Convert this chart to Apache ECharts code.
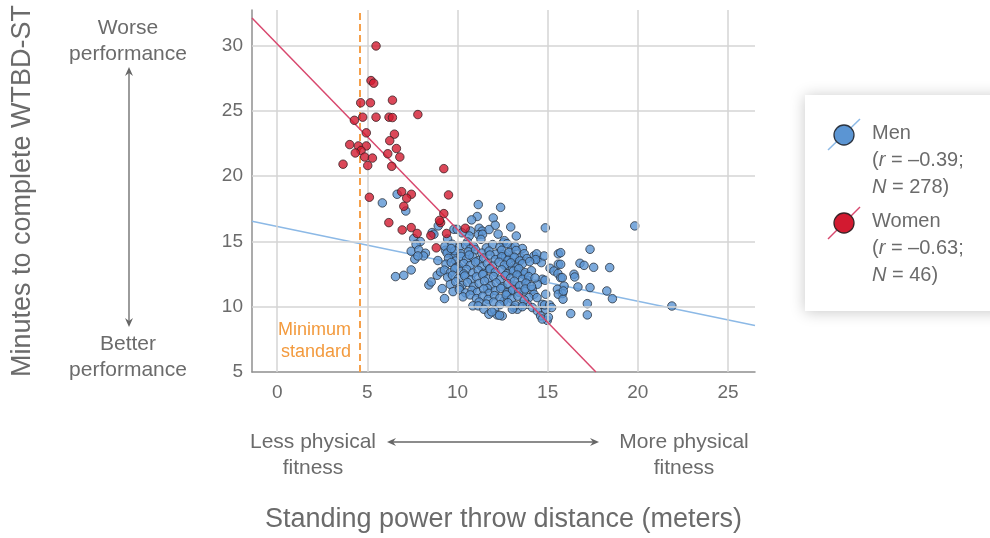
<!DOCTYPE html>
<html>
<head>
<meta charset="utf-8">
<script src="https://cdn.jsdelivr.net/npm/echarts@6/dist/echarts.min.js"></script>
<style>
  html, body { margin: 0; padding: 0; background: #fff; }
  #chart { width: 990px; height: 538px; }
</style>
</head>
<body>
<div id="chart"></div>
<script>
// Axis ticks
const xTicks = [0, 5, 10, 15, 20, 25];
const yTicks = [5, 10, 15, 20, 25, 30];
const xRange = [-1.4, 26.5];
const yRange = [5, 32.7];

// Minimum standard for the standing power throw (meters)
const minimumStandard = 4.55;

// Fitted lines: minutes = intercept + slope * distance
const menFit = { intercept: 16.13, slope: -0.286 };
const womenFit = { intercept: 30.1, slope: -1.42 };

// Women: [throw distance (m), minutes]
const womenPoints = [
  [5.48, 29.95], [5.2, 27.3], [5.35, 27.1], [4.63, 25.6], [5.17, 25.6], [6.39, 25.8],
  [4.28, 24.26], [4.74, 24.5], [5.48, 24.5], [6.2, 24.5], [6.39, 24.47], [7.8, 24.7],
  [4.94, 23.3], [6.5, 23.2], [6.24, 22.7], [4.02, 22.4], [4.5, 22.3], [4.94, 22.3],
  [6.61, 22.1], [4.65, 21.94], [4.33, 21.76], [6.13, 21.7], [4.85, 21.45], [5.28, 21.37],
  [6.8, 21.45], [3.65, 20.9], [5.02, 20.8], [6.35, 20.74], [9.24, 20.56], [5.11, 18.37],
  [6.9, 18.8], [7.44, 18.6], [7.18, 18.3], [7.02, 17.68], [9.5, 18.55], [6.19, 16.43],
  [6.93, 15.87], [7.43, 16.05], [7.76, 15.6], [8.52, 15.44], [9.24, 17.12], [9.06, 16.43],
  [9.39, 15.6], [8.82, 14.5], [10.43, 16.0], [9.0, 16.6]
];

// Men: [throw distance (m), minutes]
const menPoints = [
  [5.83, 17.94], [6.65, 18.6], [7.13, 17.32],
  [6.56, 12.3], [7.02, 12.4], [7.43, 12.81],
  [7.57, 15.21], [7.94, 14.98], [7.7, 14.77],
  [7.43, 14.24], [7.85, 14.34], [8.22, 14.09], [7.63, 13.63], [8.11, 13.88], [7.8, 13.88],
  [8.91, 13.53], [9.33, 14.32], [9.65, 14.09], [9.83, 13.83],
  [8.41, 11.66], [8.54, 11.89], [9.15, 11.38], [9.28, 10.62], [8.87, 12.4], [9.06, 12.66],
  [8.93, 16.18], [8.59, 15.67], [8.69, 15.54], [9.8, 15.92], [9.98, 15.92],
  [11.15, 17.81], [12.39, 17.6], [11.09, 16.9], [10.78, 16.64], [11.98, 16.79], [12.09, 16.23],
  [14.87, 16.03], [19.83, 16.18],
  [11.2, 16.0], [11.37, 15.78], [10.72, 15.79], [11.17, 15.51], [11.39, 15.54], [10.65, 15.41],
  [13.26, 15.41],
  [12.54, 14.9], [13.0, 14.47], [12.48, 14.01], [12.67, 13.88], [12.85, 13.63], [13.09, 13.8],
  [13.28, 13.37], [13.5, 13.75], [12.76, 13.12], [13.04, 12.86], [13.41, 12.6], [13.65, 12.48],
  [13.87, 12.02], [14.24, 13.88], [14.43, 13.63], [14.65, 13.37], [14.8, 13.88], [15.13, 12.94],
  [15.35, 12.73], [15.57, 12.53], [15.72, 12.22], [15.91, 11.58], [15.82, 11.0], [14.7, 12.1],
  [14.85, 12.02], [14.43, 11.71], [14.15, 11.33], [14.24, 10.95], [13.96, 10.69], [13.69, 11.2],
  [13.22, 11.58], [12.95, 11.2], [12.76, 10.95], [12.57, 10.44], [13.13, 9.93], [13.32, 9.8],
  [13.59, 10.18], [13.87, 10.18], [14.15, 9.93], [14.43, 9.67], [14.7, 10.18], [14.89, 9.8],
  [14.61, 9.29], [14.98, 8.95], [14.7, 9.05], [12.48, 9.29],
  [15.59, 14.04], [14.39, 14.04], [14.33, 13.6], [15.59, 13.25], [15.54, 11.33], [15.59, 10.95],
  [15.85, 10.57], [14.89, 10.95], [14.41, 10.69], [14.83, 10.13], [15.11, 10.13], [15.22, 9.93],
  [15.04, 9.19], [16.28, 9.47], [17.2, 10.23], [17.2, 9.37], [17.35, 14.39], [16.79, 13.32],
  [17.02, 13.16], [17.55, 13.01], [18.44, 12.99], [16.46, 12.48], [16.5, 12.27], [15.72, 14.13],
  [15.72, 13.24], [16.68, 11.51], [17.35, 11.46], [18.28, 11.2], [18.59, 10.61], [15.87, 11.2],
  [21.89, 10.05], [15.81, 12.22],
  // dense core of the cloud
  [9.45, 15.18], [10.25, 15.65], [10.55, 14.95], [12.25, 15.55], [12.6, 15.05], [11.75, 15.9], [12.95, 16.1],
  [9.3, 14.62], [9.7, 14.78], [10.1, 14.55], [10.45, 14.72], [10.9, 14.6], [11.3, 15.15],
  [11.6, 14.5], [11.95, 14.75], [12.35, 14.55], [12.75, 14.82], [13.2, 14.6], [13.6, 14.45], [10.7, 14.4],
  [9.42, 14.1], [9.85, 14.28], [10.2, 14.05], [10.6, 14.2], [11.0, 14.35], [11.35, 14.1],
  [11.75, 14.25], [12.1, 14.02], [12.45, 14.32], [12.85, 14.15], [13.25, 14.3], [13.7, 14.05], [9.65, 14.45],
  [9.5, 13.7], [9.9, 13.5], [10.2, 13.85], [10.5, 13.62], [10.85, 13.8], [11.15, 13.52],
  [11.45, 13.72], [11.8, 13.95], [12.1, 13.6], [12.45, 13.82], [12.8, 13.55], [13.15, 13.78],
  [13.45, 13.5], [13.85, 13.68], [10.65, 13.95],
  [9.36, 13.25], [9.65, 13.38], [10.05, 13.1], [10.35, 13.3], [10.7, 13.15], [11.0, 13.42],
  [11.35, 13.05], [11.65, 13.3], [11.95, 13.1], [12.3, 13.4], [12.6, 13.18], [12.95, 13.35],
  [13.3, 13.02], [13.6, 13.28], [14.0, 13.45], [9.9, 12.98], [11.8, 12.92],
  [9.27, 12.8], [9.6, 12.6], [9.85, 12.9], [10.2, 12.7], [10.5, 12.85], [10.85, 12.58],
  [11.15, 12.78], [11.45, 12.55], [11.8, 12.88], [12.1, 12.65], [12.45, 12.82], [12.75, 12.52],
  [13.1, 12.72], [13.4, 12.9], [13.75, 12.6], [14.1, 12.75], [10.35, 12.5],
  [9.45, 12.25], [9.72, 12.4], [10.05, 12.15], [10.4, 12.35], [10.75, 12.05], [11.05, 12.28],
  [11.4, 12.45], [11.7, 12.12], [12.0, 12.3], [12.35, 12.05], [12.65, 12.38], [12.95, 12.18],
  [13.3, 12.42], [13.6, 12.1], [13.95, 12.3], [14.3, 12.2],
  [9.6, 11.7], [9.9, 11.9], [10.25, 11.62], [10.55, 11.85], [10.9, 11.55], [11.2, 11.78],
  [11.5, 11.95], [11.85, 11.6], [12.15, 11.82], [12.5, 11.52], [12.8, 11.75], [13.15, 11.95],
  [13.45, 11.6], [13.8, 11.8], [10.1, 11.45], [11.65, 11.4],
  [9.75, 11.15], [10.1, 11.3], [10.45, 11.05], [10.8, 11.25], [11.1, 11.1], [11.45, 11.35],
  [11.75, 11.02], [12.1, 11.22], [12.4, 11.4], [12.75, 11.08], [13.05, 11.28], [13.4, 11.1],
  [13.75, 11.35], [14.1, 11.55],
  [10.3, 10.75], [10.7, 10.9], [11.05, 10.62], [11.4, 10.8], [11.7, 10.55], [12.05, 10.85],
  [12.35, 10.65], [12.7, 10.9], [13.0, 10.6], [13.35, 10.8], [13.7, 10.5], [11.2, 10.35],
  [10.85, 10.06], [11.15, 10.06], [11.6, 10.2], [12.0, 10.35], [12.35, 10.15], [12.8, 10.3],
  [13.2, 10.1], [13.6, 10.0],
  [11.46, 9.8], [11.74, 9.42], [12.06, 9.72], [12.2, 9.37], [12.33, 9.34], [13.04, 9.8], [11.9, 9.6]
];

const TEXT = '#6b6b6b';
const FONT = '"Liberation Sans", Arial, sans-serif';
const BLUE = '#5b95d3';
const RED = '#d21a30';

// Fitted line endpoints, clipped to the plotted range
function fitLine(fit) {
  const x0 = xRange[0];
  let x1 = xRange[1];
  const yAtEnd = fit.intercept + fit.slope * x1;
  if (yAtEnd < yRange[0]) x1 = (yRange[0] - fit.intercept) / fit.slope;
  return [[x0, fit.intercept + fit.slope * x0], [x1, fit.intercept + fit.slope * x1]];
}

const chart = echarts.init(document.getElementById('chart'), null, { renderer: 'canvas' });

const gridLines = [];
xTicks.forEach(v => gridLines.push({ xAxis: v }));
yTicks.filter(v => v > yRange[0]).forEach(v => gridLines.push({ yAxis: v }));

function arrowHead(x, y, dir) {
  const L = 9, W = 4;
  let pts;
  if (dir === 'up') pts = [[x, y], [x - W, y + L], [x, y + L - 3], [x + W, y + L]];
  if (dir === 'down') pts = [[x, y], [x - W, y - L], [x, y - L + 3], [x + W, y - L]];
  if (dir === 'left') pts = [[x, y], [x + L, y - W], [x + L - 3, y], [x + L, y + W]];
  if (dir === 'right') pts = [[x, y], [x - L, y - W], [x - L + 3, y], [x - L, y + W]];
  return { type: 'polygon', shape: { points: pts }, style: { fill: '#666' } };
}

function note(x, y, text, align, size, color, lh) {
  return {
    type: 'text', x: x, y: y,
    style: { text: text, fill: color || TEXT, font: size + 'px ' + FONT, lineHeight: lh, align: align, verticalAlign: 'top' }
  };
}

function legendText(x, y, lines) {
  return {
    type: 'text', x: x, y: y, z: 12,
    style: {
      text: lines.join('\n'), fill: TEXT, font: '20px ' + FONT, lineHeight: 27, verticalAlign: 'top',
      rich: { i: { fontStyle: 'italic', fontSize: 20, fontFamily: FONT, fill: TEXT, lineHeight: 27 } }
    }
  };
}

const option = {
  animation: false,
  backgroundColor: '#fff',
  textStyle: { fontFamily: FONT },
  grid: { left: 252, right: 235, top: 10, bottom: 165 },
  xAxis: {
    type: 'value', min: xRange[0], max: xRange[1],
    name: 'Standing power throw distance (meters)',
    nameLocation: 'middle', nameGap: 134,
    nameTextStyle: { color: TEXT, fontSize: 27, fontFamily: FONT },
    axisLine: { show: true, onZero: false, lineStyle: { color: '#8f8f8f', width: 1.5 } },
    axisTick: { show: false },
    splitLine: { show: false },
    axisLabel: { customValues: xTicks, color: TEXT, fontSize: 19, margin: 11, fontFamily: FONT }
  },
  yAxis: {
    type: 'value', min: yRange[0], max: yRange[1],
    name: 'Minutes to complete WTBD-ST',
    nameLocation: 'middle', nameGap: 216, nameRotate: 90,
    nameTextStyle: { color: TEXT, fontSize: 27, fontFamily: FONT },
    axisLine: { show: true, onZero: false, lineStyle: { color: '#8f8f8f', width: 1.5 } },
    axisTick: { show: false },
    splitLine: { show: false },
    axisLabel: { customValues: yTicks, color: TEXT, fontSize: 19, margin: 9, fontFamily: FONT }
  },
  series: [
    {
      name: 'gridlines', type: 'scatter', data: [], z: 1, silent: true,
      markLine: {
        silent: true, symbol: ['none', 'none'], label: { show: false },
        lineStyle: { color: '#d5d5d5', width: 1.5, type: 'solid' },
        data: gridLines
      }
    },
    {
      name: 'minimum', type: 'scatter', data: [], z: 2, silent: true,
      markLine: {
        silent: true, symbol: ['none', 'none'], label: { show: false },
        lineStyle: { color: '#f5a04a', width: 2, type: [7, 4] },
        data: [{ xAxis: minimumStandard }]
      }
    },
    {
      name: 'Men fit', type: 'line', data: fitLine(menFit), z: 3, symbol: 'none',
      lineStyle: { color: '#8cb9e6', width: 1.5 }, silent: true
    },
    {
      name: 'Men', type: 'scatter', data: menPoints, z: 4, symbolSize: 8.5,
      itemStyle: { color: BLUE, borderColor: '#2c3440', borderWidth: 1 }
    },
    {
      name: 'Women fit', type: 'line', data: fitLine(womenFit), z: 5, symbol: 'none',
      lineStyle: { color: '#d8486e', width: 1.5 }, silent: true
    },
    {
      name: 'Women', type: 'scatter', data: womenPoints, z: 6, symbolSize: 8.5,
      itemStyle: { color: RED, borderColor: '#3a2226', borderWidth: 1 }
    }
  ],
  graphic: [
    note(351, 319, 'Minimum\nstandard', 'right', 18, '#f39a3d', 22),
    note(128, 15, 'Worse\nperformance', 'center', 21, TEXT, 26),
    { type: 'line', shape: { x1: 129, y1: 72, x2: 129, y2: 322 }, style: { stroke: '#666', lineWidth: 1.3 } },
    arrowHead(129, 67, 'up'),
    arrowHead(129, 327, 'down'),
    note(128, 331, 'Better\nperformance', 'center', 21, TEXT, 26),
    note(313, 429, 'Less physical\nfitness', 'center', 21, TEXT, 26),
    { type: 'line', shape: { x1: 392, y1: 442, x2: 594, y2: 442 }, style: { stroke: '#666', lineWidth: 1.3 } },
    arrowHead(387, 442, 'left'),
    arrowHead(599, 442, 'right'),
    note(684, 429, 'More physical\nfitness', 'center', 21, TEXT, 26),
    // Legend panel
    { type: 'rect', shape: { x: 805, y: 95, width: 200, height: 216 }, style: { fill: '#fff', shadowBlur: 14, shadowColor: 'rgba(0,0,0,0.22)', shadowOffsetX: 0, shadowOffsetY: 1 }, z: 10 },
    { type: 'line', shape: { x1: 828, y1: 150, x2: 860, y2: 119 }, style: { stroke: '#8cb9e6', lineWidth: 1.5 }, z: 11 },
    { type: 'circle', shape: { cx: 844, cy: 135, r: 10 }, style: { fill: BLUE, stroke: '#2c3440', lineWidth: 1.3 }, z: 12 },
    { type: 'line', shape: { x1: 828, y1: 239, x2: 860, y2: 207 }, style: { stroke: '#d8486e', lineWidth: 1.5 }, z: 11 },
    { type: 'circle', shape: { cx: 844, cy: 223, r: 10 }, style: { fill: RED, stroke: '#3a2226', lineWidth: 1.3 }, z: 12 },
    legendText(872, 120, ['Men', '({i|r} = \u20130.39;', '{i|N} = 278)']),
    legendText(872, 208, ['Women', '({i|r} = \u20130.63;', '{i|N} = 46)'])
  ]
};

chart.setOption(option);
</script>
</body>
</html>
